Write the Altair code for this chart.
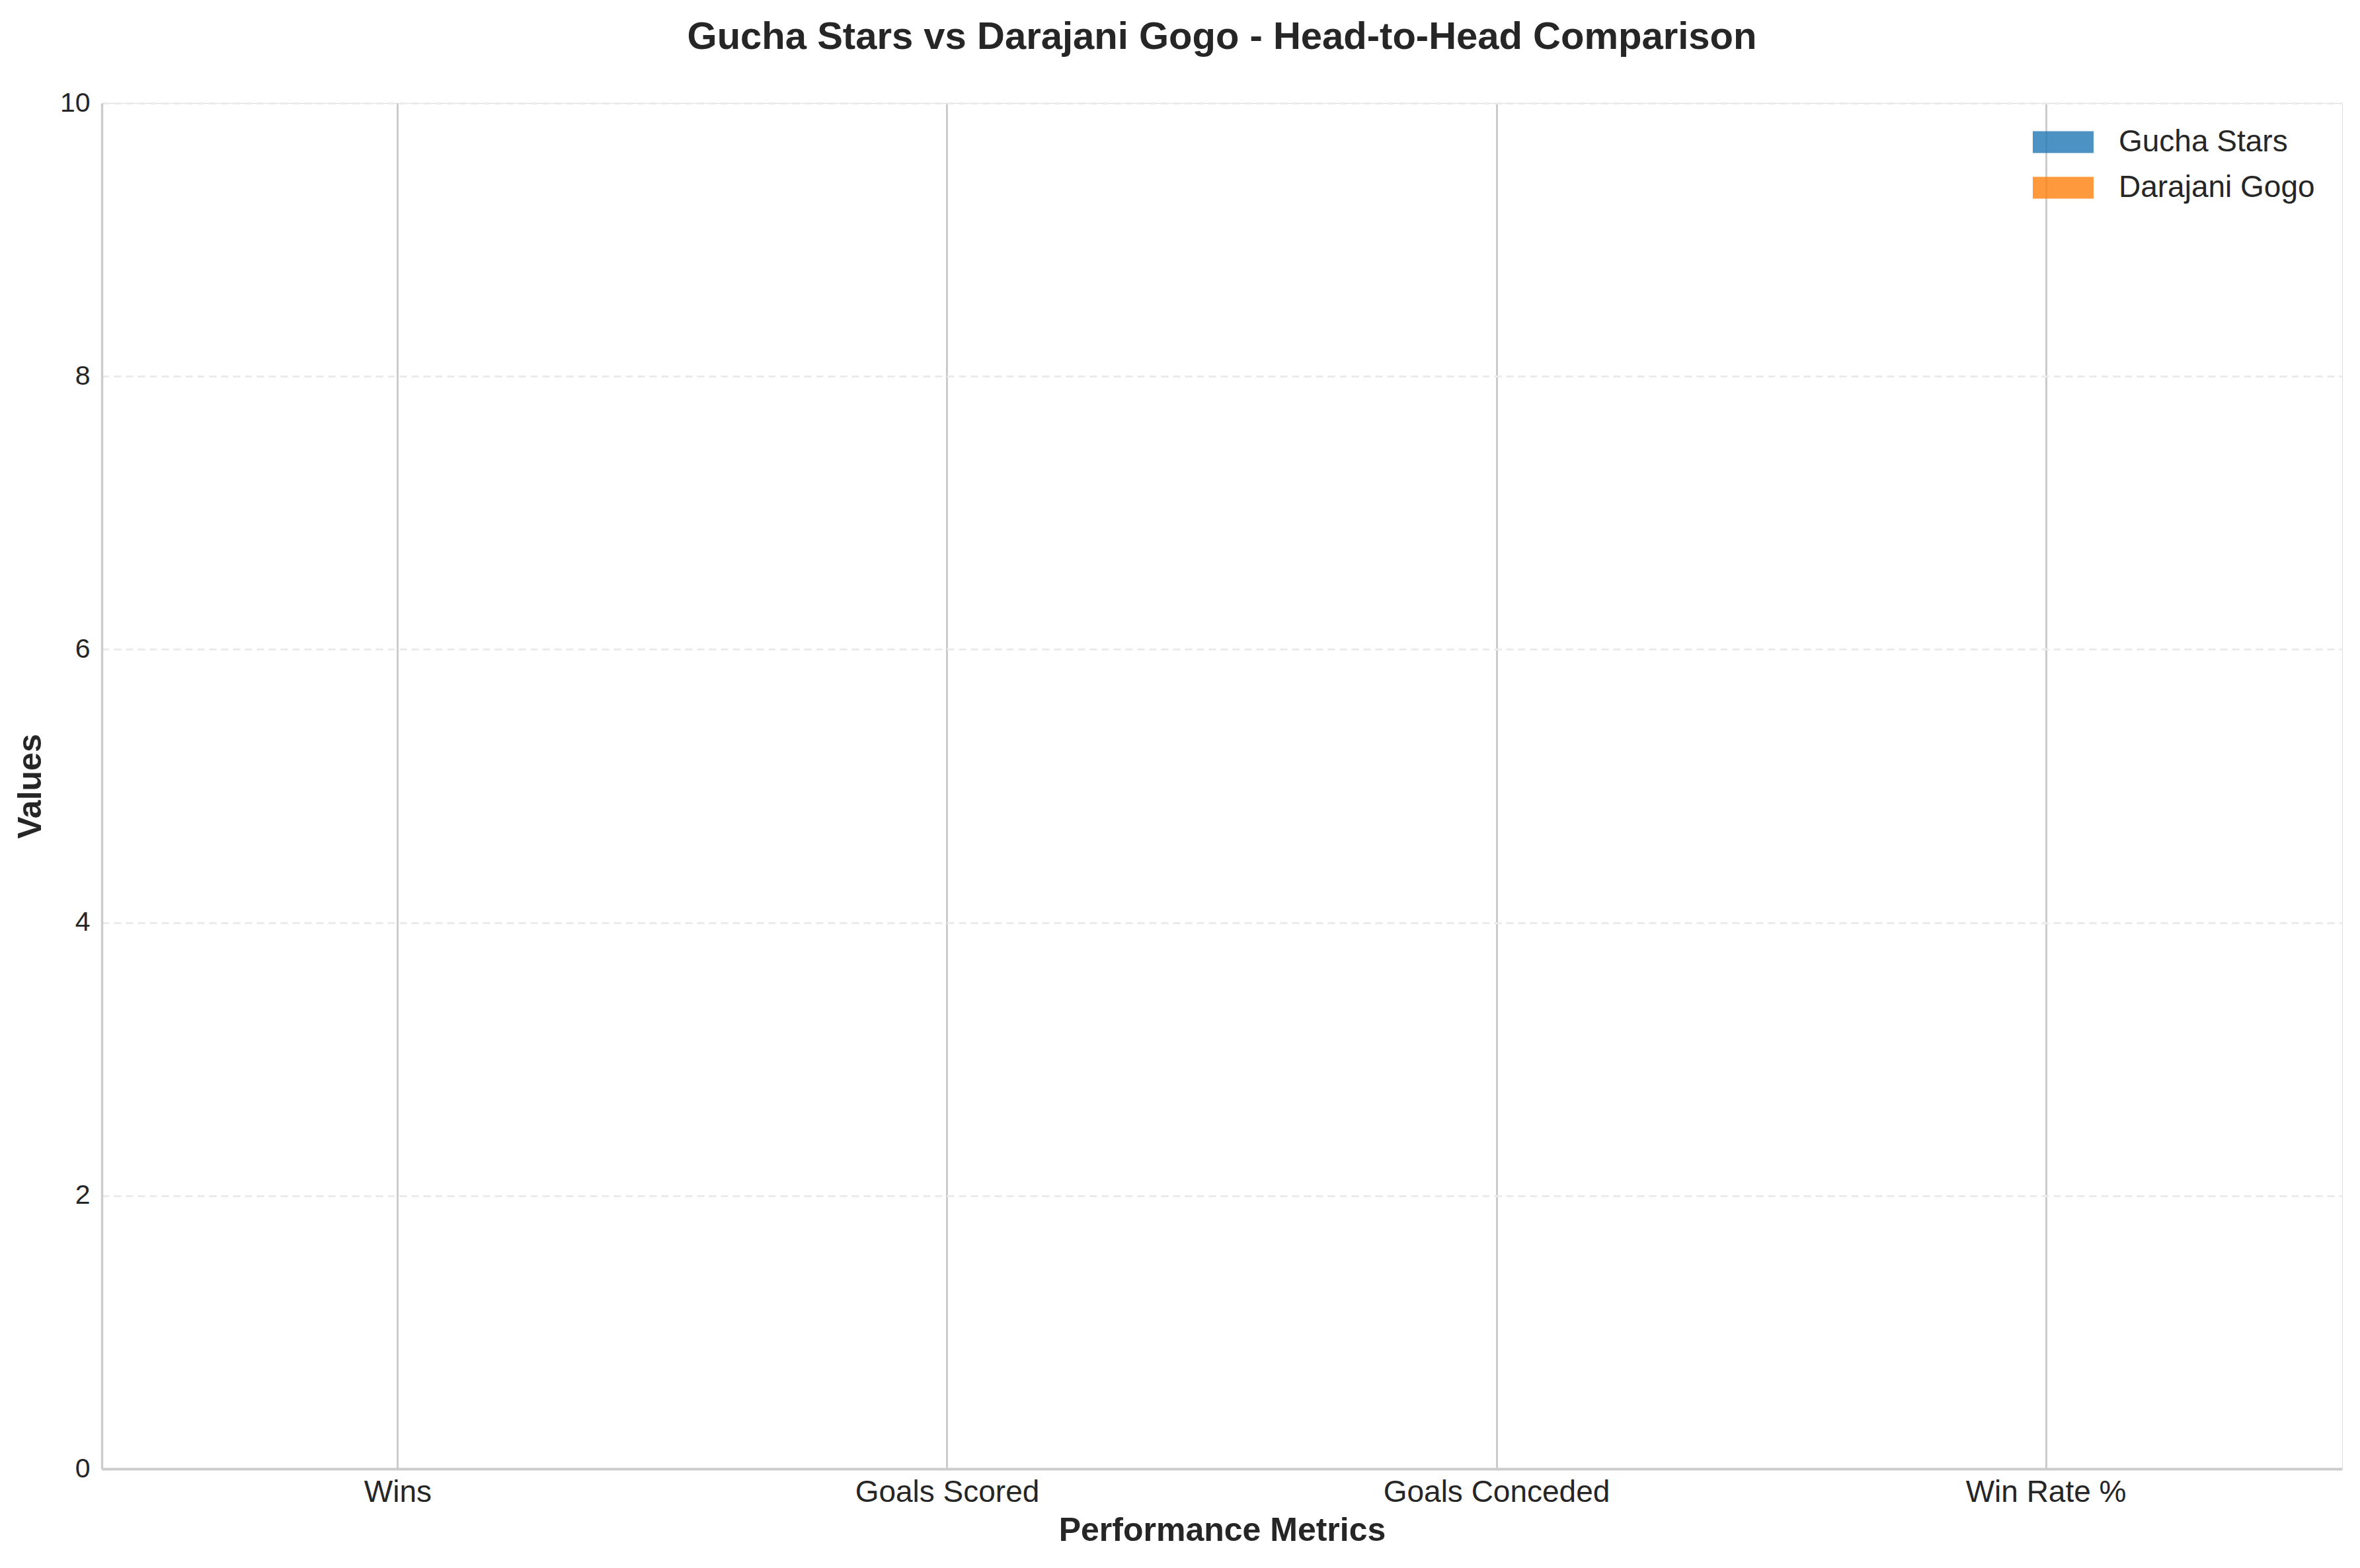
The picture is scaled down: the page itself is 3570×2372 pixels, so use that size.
import altair as alt
import pandas as pd

metrics = ["Wins", "Goals Scored", "Goals Conceded", "Win Rate %"]
teams = ["Gucha Stars", "Darajani Gogo"]
gucha_values = [0, 0, 0, 0]
darajani_values = [0, 0, 0, 0]
team_colors = ["#1f77b4", "#ff7f0e"]
y_ticks = [0, 2, 4, 6, 8, 10]

rows = []
for m, g, d in zip(metrics, gucha_values, darajani_values):
    rows.append({"Metric": m, "Team": teams[0], "Value": g})
    rows.append({"Metric": m, "Team": teams[1], "Value": d})
df = pd.DataFrame(rows)

FONT = "Liberation Sans"
TXT = "#262626"
W, H = 3389, 2066

rect_path = "M-1,-0.36L1,-0.36L1,0.36L-1,0.36Z"

chart = alt.Chart(df).mark_bar(opacity=0.8).encode(
    x=alt.X(
        "Metric:N",
        sort=metrics,
        scale=alt.Scale(paddingInner=0.2, paddingOuter=0.139),
        axis=alt.Axis(
            title="Performance Metrics",
            labelAngle=0,
            labelFontSize=46,
            labelColor=TXT,
            labelFont=FONT,
            labelPadding=13,
            labelLimit=0,
            ticks=False,
            grid=True,
            gridColor="#cccccc",
            gridWidth=3,
            bandPosition=0.5,
            domainColor="#cccccc",
            domainWidth=4,
            titleFontSize=50,
            titleFont=FONT,
            titleFontWeight="bold",
            titleColor=TXT,
            titlePadding=10,
        ),
    ),
    xOffset=alt.XOffset("Team:N", sort=teams),
    y=alt.Y(
        "Value:Q",
        scale=alt.Scale(domain=[0, 10], nice=False),
        axis=alt.Axis(
            title="Values",
            values=y_ticks,
            labelFontSize=41,
            labelColor=TXT,
            labelFont=FONT,
            labelPadding=18,
            ticks=False,
            grid=True,
            gridColor="#ebebeb",
            gridWidth=3,
            gridDash=[11, 7],
            domainColor="#cccccc",
            domainWidth=3.5,
            titleFontSize=50,
            titleFont=FONT,
            titleFontWeight="bold",
            titleColor=TXT,
            titlePadding=19,
        ),
    ),
    color=alt.Color(
        "Team:N",
        sort=teams,
        scale=alt.Scale(domain=teams, range=team_colors),
        legend=alt.Legend(
            title=None,
            orient="none",
            legendX=2921,
            legendY=13,
            symbolType=rect_path,
            symbolSize=8464,
            symbolOpacity=0.8,
            symbolStrokeWidth=0,
            labelFontSize=46,
            labelFont=FONT,
            labelColor=TXT,
            labelOffset=38,
            labelLimit=0,
            rowPadding=-8,
            padding=0,
        ),
    ),
).properties(
    width=W,
    height=H,
    title=alt.TitleParams(
        "Gucha Stars vs Darajani Gogo - Head-to-Head Comparison",
        fontSize=58,
        font=FONT,
        fontWeight="bold",
        color=TXT,
        anchor="middle",
        offset=49,
    ),
    autosize=alt.AutoSizeParams(type="none"),
    padding={"left": 146, "top": 148, "right": 19, "bottom": 142},
).configure_view(stroke=None).configure(background="white")

chart.save("out.html", embed_options={"renderer": "svg", "actions": False})
